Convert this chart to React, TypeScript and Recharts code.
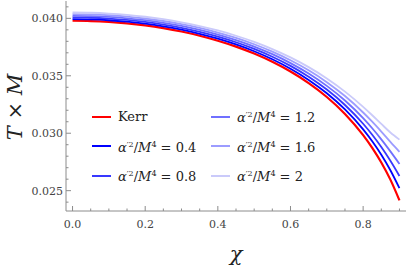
import { LineChart, Line, XAxis, YAxis, Legend, Label } from 'recharts'

// spin parameter chi
const CHI = [0, 0.05, 0.1, 0.15, 0.2, 0.25, 0.3, 0.35, 0.4, 0.45, 0.5, 0.55, 0.6, 0.65, 0.7, 0.75, 0.8, 0.825, 0.85, 0.875, 0.9]

// T x M for each curve
const KERR = [0.039789, 0.039764, 0.039689, 0.039562, 0.039383, 0.039147, 0.038851, 0.038489, 0.038055, 0.03754, 0.036932, 0.036215, 0.035368, 0.034361, 0.033153, 0.031681, 0.029842, 0.028734, 0.027456, 0.025959, 0.024157]
const A04 = [0.039933, 0.039908, 0.039835, 0.03971, 0.039534, 0.039303, 0.039012, 0.038657, 0.038233, 0.037729, 0.037136, 0.036437, 0.035614, 0.034639, 0.033476, 0.032069, 0.030333, 0.0293, 0.028126, 0.02678, 0.025214]
const A08 = [0.040077, 0.040053, 0.03998, 0.039858, 0.039685, 0.039458, 0.039173, 0.038826, 0.03841, 0.037918, 0.037339, 0.036658, 0.03586, 0.034918, 0.033799, 0.032458, 0.030824, 0.029867, 0.028797, 0.027601, 0.026271]
const A12 = [0.040221, 0.040197, 0.040126, 0.040006, 0.039837, 0.039614, 0.039335, 0.038994, 0.038588, 0.038106, 0.037543, 0.03688, 0.036106, 0.035196, 0.034121, 0.032846, 0.031314, 0.030433, 0.029467, 0.028421, 0.027327]
const A16 = [0.040365, 0.040342, 0.040271, 0.040154, 0.039988, 0.039769, 0.039496, 0.039163, 0.038765, 0.038295, 0.037746, 0.037101, 0.036352, 0.035475, 0.034444, 0.033235, 0.031805, 0.031, 0.030138, 0.029242, 0.028384]
const A20 = [0.040509, 0.040486, 0.040417, 0.040302, 0.040139, 0.039925, 0.039657, 0.039331, 0.038943, 0.038484, 0.03795, 0.037323, 0.036598, 0.035753, 0.034767, 0.033623, 0.032296, 0.031566, 0.030808, 0.030063, 0.029441]

const X_TICKS = [0, 0.05, 0.1, 0.15, 0.2, 0.25, 0.3, 0.35, 0.4, 0.45, 0.5, 0.55, 0.6, 0.65, 0.7, 0.75, 0.8, 0.85, 0.9]
const X_MAJOR = [0, 0.2, 0.4, 0.6, 0.8]
const Y_TICKS = [0.024, 0.025, 0.026, 0.027, 0.028, 0.029, 0.03, 0.031, 0.032, 0.033, 0.034, 0.035, 0.036, 0.037, 0.038, 0.039, 0.04, 0.041]
const Y_MAJOR = [0.025, 0.03, 0.035, 0.04]

const SERIES = [
  { key: 'kerr', name: 'Kerr', alpha: '', color: '#ff0000', width: 2.2 },
  { key: 'a04', name: '', alpha: '0.4', color: '#0000ff', width: 1.8 },
  { key: 'a08', name: '', alpha: '0.8', color: '#3838ff', width: 1.8 },
  { key: 'a12', name: '', alpha: '1.2', color: '#7070ff', width: 1.8 },
  { key: 'a16', name: '', alpha: '1.6', color: '#9c9cff', width: 1.8 },
  { key: 'a20', name: '', alpha: '2', color: '#cacafa', width: 1.8 },
]

const data = CHI.map((chi, i) => ({
  chi,
  kerr: KERR[i],
  a04: A04[i],
  a08: A08[i],
  a12: A12[i],
  a16: A16[i],
  a20: A20[i],
}))

const FONT = "'DejaVu Serif', serif"
const FRAME = '#8c8c8c'
const isMajor = (v: number, majors: number[]) => majors.some((m) => Math.abs(m - v) < 1e-9)

const BottomTick = (p: any) => {
  const major = isMajor(p.payload.value, X_MAJOR)
  return (
    <g>
      <line x1={p.x} x2={p.x} y1={p.y} y2={p.y - (major ? 5 : 2.5)} stroke={FRAME} />
      {major && (
        <text x={p.x} y={p.y + 17} textAnchor="middle" fontSize={11} fill="#444" fontFamily={FONT}>
          {p.payload.value.toFixed(1)}
        </text>
      )}
    </g>
  )
}
const TopTick = (p: any) => {
  const major = isMajor(p.payload.value, X_MAJOR)
  return <line x1={p.x} x2={p.x} y1={p.y} y2={p.y + (major ? 5 : 2.5)} stroke={FRAME} />
}
const LeftTick = (p: any) => {
  const major = isMajor(p.payload.value, Y_MAJOR)
  return (
    <g>
      <line x1={p.x} x2={p.x + (major ? 5 : 2.5)} y1={p.y} y2={p.y} stroke={FRAME} />
      {major && (
        <text x={p.x - 3} y={p.y + 4} textAnchor="end" fontSize={11} fill="#444" fontFamily={FONT}>
          {p.payload.value.toFixed(3)}
        </text>
      )}
    </g>
  )
}
const RightTick = (p: any) => {
  const major = isMajor(p.payload.value, Y_MAJOR)
  return <line x1={p.x} x2={p.x - (major ? 5 : 2.5)} y1={p.y} y2={p.y} stroke={FRAME} />
}

const LegendBox = () => (
  <div
    style={{
      display: 'grid',
      gridAutoFlow: 'column',
      gridTemplateRows: 'repeat(3, 29.5px)',
      gridTemplateColumns: '119px 150px',
      fontFamily: FONT,
      fontSize: 13,
      color: '#222',
    }}
  >
    {SERIES.map((s) => (
      <div key={s.key} style={{ display: 'flex', alignItems: 'center', whiteSpace: 'nowrap' }}>
        <span style={{ display: 'inline-block', width: 19, height: 2, background: s.color, marginRight: 7 }} />
        {s.alpha ? (
          <span style={{ lineHeight: '14px' }}>
            <i>α</i>
            <sup style={{ fontSize: 8, verticalAlign: 5 }}>′2</sup>/<i>M</i>
            <sup style={{ fontSize: 8, verticalAlign: 5 }}>4</sup>
            {' = ' + s.alpha}
          </span>
        ) : (
          <span>{s.name}</span>
        )}
      </div>
    ))}
  </div>
)

export default function App() {
  return (
    <div style={{ position: 'absolute', left: 0, top: 0, background: '#fff', fontFamily: FONT }}>
      <LineChart width={407} height={267} data={data} margin={{ top: 1, right: 1, bottom: 0, left: 0 }}>
        <XAxis
          xAxisId={0}
          dataKey="chi"
          type="number"
          domain={[-0.018, 0.918]}
          allowDataOverflow
          ticks={X_TICKS}
          interval={0}
          height={56}
          tickSize={0}
          tickMargin={0}
          tickLine={false}
          tick={BottomTick}
          stroke={FRAME}
        >
          <Label
            value="χ"
            position="insideBottom"
            offset={6}
            style={{ fontFamily: FONT, fontStyle: 'italic', fontSize: 21, fill: '#222' }}
          />
        </XAxis>
        <XAxis
          xAxisId="top"
          orientation="top"
          dataKey="chi"
          type="number"
          domain={[-0.018, 0.918]}
          allowDataOverflow
          ticks={X_TICKS}
          interval={0}
          height={0}
          tickSize={0}
          tickMargin={0}
          tickLine={false}
          tick={TopTick}
          stroke={FRAME}
        />
        <YAxis
          yAxisId={0}
          type="number"
          domain={[0.02323, 0.04151]}
          allowDataOverflow
          ticks={Y_TICKS}
          interval={0}
          width={66}
          tickSize={0}
          tickMargin={0}
          tickLine={false}
          tick={LeftTick}
          stroke={FRAME}
        >
          <Label
            content={() => (
              <text
                x={15}
                y={107}
                transform="rotate(-90 15 107)"
                textAnchor="middle"
                dominantBaseline="central"
                fontFamily={FONT}
                fontSize={21}
                fill="#222"
              >
                <tspan fontStyle="italic">T</tspan> × <tspan fontStyle="italic">M</tspan>
              </text>
            )}
          />
        </YAxis>
        <YAxis
          yAxisId="right"
          orientation="right"
          type="number"
          domain={[0.02323, 0.04151]}
          allowDataOverflow
          ticks={Y_TICKS}
          interval={0}
          width={0}
          tickSize={0}
          tickMargin={0}
          tickLine={false}
          tick={RightTick}
          stroke={FRAME}
        />
        <Legend
          layout="vertical"
          align="center"
          verticalAlign="middle"
          content={LegendBox}
          wrapperStyle={{ left: 92, top: 102, width: 270, height: 89 }}
        />
        {SERIES.map((s) => (
          <Line
            key={s.key}
            xAxisId={0}
            yAxisId={0}
            type="monotone"
            dataKey={s.key}
            stroke={s.color}
            strokeWidth={s.width}
            dot={false}
            isAnimationActive={false}
          />
        ))}
      </LineChart>
    </div>
  )
}
